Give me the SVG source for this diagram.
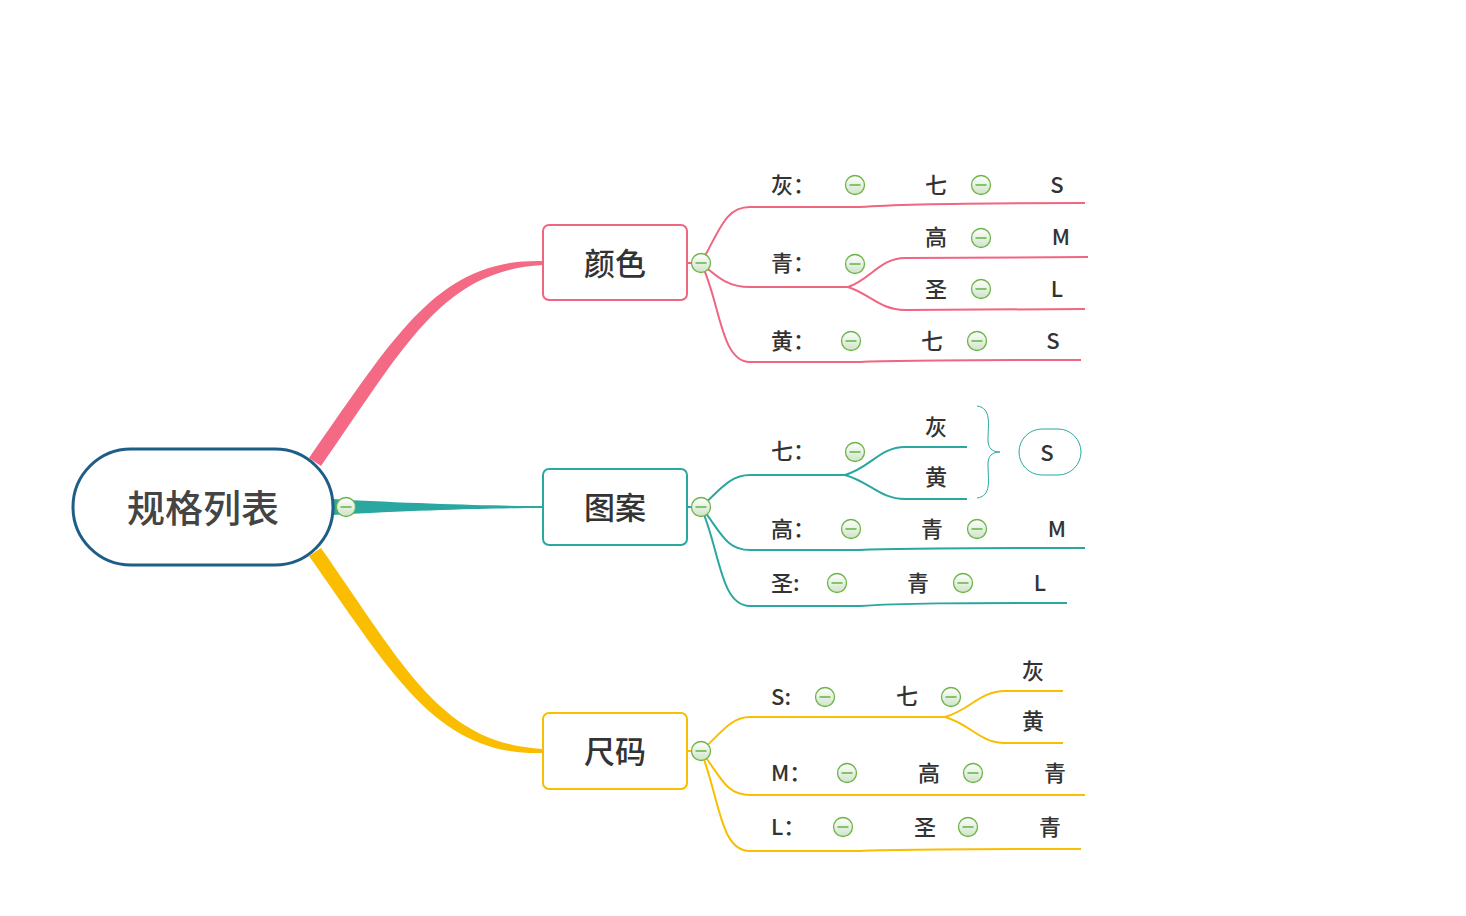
<svg xmlns="http://www.w3.org/2000/svg" width="1466" height="916" viewBox="0 0 1466 916">
<defs>
<linearGradient id="cg" x1="0" y1="0" x2="0" y2="1">
<stop offset="0" stop-color="#ffffff"/>
<stop offset="1" stop-color="#cfe3c8"/>
</linearGradient>
<g id="col">
<circle r="9.5" fill="url(#cg)" stroke="#6db447" stroke-width="1.3"/>
<line x1="-5.5" y1="0" x2="5.5" y2="0" stroke="#82c46a" stroke-width="2"/>
</g>
</defs>
<style>
.t{font-family:"Noto Sans CJK SC","Noto Sans",sans-serif;fill:#333;text-anchor:middle;dominant-baseline:central}
.l{text-anchor:start}
.s{font-size:22px;font-weight:500}
.m{font-size:31px;font-weight:500}
.r{font-size:38px;font-weight:500;fill:#444}
.pk{fill:none;stroke:#f0657f;stroke-width:2}
.tl{fill:none;stroke:#2ba7a1;stroke-width:2}
.yl{fill:none;stroke:#f8be00;stroke-width:2}
</style>
<rect width="1466" height="916" fill="#fff"/>
<g id="connectors">
<path d="M309,458 C395,336 438,258 543,261 L543,265 C442,270 405,346 321,466 Z" fill="#f46a84"/>
<path d="M333,499 C420,504 500,506 543,506 L543,508 C500,508 420,510 333,515 Z" fill="#2ba7a1"/>
<path d="M309,556 C395,678 438,756 543,753 L543,749 C442,744 405,668 321,548 Z" fill="#fbbd00"/>
<line x1="687" y1="263" x2="701" y2="263" class="pk"/>
<line x1="687" y1="507" x2="701" y2="507" class="tl"/>
<line x1="687" y1="751" x2="701" y2="751" class="yl"/>
<path class="pk" d="M701,263 C720,230 725,207 750,207 L860,207 C900,204 960,203 1085,203"/>
<path class="pk" d="M701,263 C720,280 730,287 750,287 L848,287"/>
<path class="pk" d="M848,287 C870,280 880,258 905,258 L1088,257"/>
<path class="pk" d="M848,287 C870,294 880,310 905,310 L1085,309"/>
<path class="pk" d="M701,263 C720,300 720,362 750,362 L860,362 C900,360 960,360 1081,360"/>
<path class="tl" d="M701,507 C720,490 730,475 750,475 L845,475"/>
<path class="tl" d="M845,475 C870,468 880,447 905,447 L967,447"/>
<path class="tl" d="M845,475 C870,482 880,499 905,499 L967,499"/>
<path class="tl" d="M701,507 C720,530 725,550 750,550 L860,550 C900,548 960,548 1085,548"/>
<path class="tl" d="M701,507 C720,550 720,606 750,606 L860,606 C900,603 960,603 1067,603"/>
<path class="tl" d="M977,406 C992,408 988,425 988,440 C988,448 992,452 1000,452 C992,452 988,456 988,464 C988,480 992,496 977,498" style="stroke-width:1"/>
<rect x="1019" y="429" width="62" height="46" rx="23" fill="#fff" stroke="#2ba7a1" stroke-width="1"/>
<path class="yl" d="M701,751 C720,735 730,717 750,717 L945,717"/>
<path class="yl" d="M945,717 C970,710 980,691 1005,691 L1063,691"/>
<path class="yl" d="M945,717 C970,724 980,743 1005,743 L1063,743"/>
<path class="yl" d="M701,751 C720,775 725,795 750,795 L1085,795"/>
<path class="yl" d="M701,751 C720,800 720,851 750,851 L860,851 C900,849 960,849 1081,849"/>
</g>
<g id="root">
<rect x="73" y="449" width="260" height="116" rx="58" fill="#fff" stroke="#1d5d87" stroke-width="3"/>
<text class="t r" x="203" y="505">规格列表</text>
<use href="#col" x="346" y="507"/>
</g>
<g id="n-yanse">
<rect x="543" y="225" width="144" height="75" rx="6" fill="#fff" stroke="#f0657f" stroke-width="2"/>
<text class="t m" x="615" y="261">颜色</text>
<use href="#col" x="701" y="263"/>
</g>
<g id="n-tuan">
<rect x="543" y="469" width="144" height="76" rx="6" fill="#fff" stroke="#2ba7a1" stroke-width="2"/>
<text class="t m" x="615" y="505">图案</text>
<use href="#col" x="701" y="507"/>
</g>
<g id="n-chima">
<rect x="543" y="713" width="144" height="76" rx="6" fill="#fff" stroke="#f8be00" stroke-width="2"/>
<text class="t m" x="615" y="749">尺码</text>
<use href="#col" x="701" y="751"/>
</g>
<g id="yanse-sub">
<text class="t s l" x="771" y="183">灰：</text><use href="#col" x="855" y="185"/>
<text class="t s" x="936" y="183">七</text><use href="#col" x="981" y="185"/>
<text class="t s" x="1057" y="183">S</text>
<text class="t s l" x="771" y="261">青：</text><use href="#col" x="855" y="264"/>
<text class="t s" x="936" y="235">高</text><use href="#col" x="981" y="238"/>
<text class="t s" x="1061" y="235">M</text>
<text class="t s" x="936" y="287">圣</text><use href="#col" x="981" y="289"/>
<text class="t s" x="1057" y="287">L</text>
<text class="t s l" x="771" y="339">黄：</text><use href="#col" x="851" y="341"/>
<text class="t s" x="932" y="339">七</text><use href="#col" x="977" y="341"/>
<text class="t s" x="1053" y="339">S</text>
</g>
<g id="tuan-sub">
<text class="t s l" x="771" y="449">七：</text><use href="#col" x="855" y="452"/>
<text class="t s" x="936" y="425">灰</text>
<text class="t s" x="936" y="475">黄</text>
<text class="t s" x="1047" y="451">S</text>
<text class="t s l" x="771" y="527">高：</text><use href="#col" x="851" y="529"/>
<text class="t s" x="932" y="527">青</text><use href="#col" x="977" y="529"/>
<text class="t s" x="1057" y="527">M</text>
<text class="t s l" x="771" y="581">圣:</text><use href="#col" x="837" y="583"/>
<text class="t s" x="918" y="581">青</text><use href="#col" x="963" y="583"/>
<text class="t s" x="1040" y="581">L</text>
</g>
<g id="chima-sub">
<text class="t s l" x="771" y="695">S:</text><use href="#col" x="825" y="697"/>
<text class="t s" x="907" y="694">七</text><use href="#col" x="951" y="697"/>
<text class="t s" x="1033" y="669">灰</text>
<text class="t s" x="1033" y="719">黄</text>
<text class="t s l" x="771" y="771">M：</text><use href="#col" x="847" y="773"/>
<text class="t s" x="929" y="771">高</text><use href="#col" x="973" y="773"/>
<text class="t s" x="1055" y="771">青</text>
<text class="t s l" x="771" y="825">L：</text><use href="#col" x="843" y="827"/>
<text class="t s" x="925" y="825">圣</text><use href="#col" x="968" y="827"/>
<text class="t s" x="1050" y="825">青</text>
</g>
</svg>
